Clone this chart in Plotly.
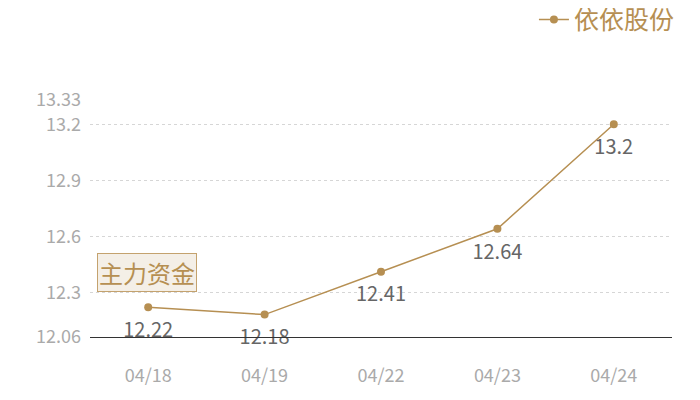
import plotly.graph_objects as go

# Data
dates = ["04/18", "04/19", "04/22", "04/23", "04/24"]
prices = [12.22, 12.18, 12.41, 12.64, 13.2]
y_ticks = [12.06, 12.3, 12.6, 12.9, 13.2, 13.33]
series_name = "依依股份"

gold = "#b68f52"
font_family = "Noto Sans CJK SC, Noto Sans, sans-serif"

fig = go.Figure()
fig.add_trace(go.Scatter(
    x=dates,
    y=prices,
    name=series_name,
    mode="lines+markers",
    line=dict(color=gold, width=1.5),
    marker=dict(color=gold, size=8),
))
# value labels, pushed a little further below the points
fig.add_trace(go.Scatter(
    x=dates,
    y=prices,
    mode="markers+text",
    marker=dict(size=22, opacity=0),
    text=[str(p) for p in prices],
    textposition="bottom center",
    textfont=dict(size=20, color="#666666"),
    cliponaxis=False,
    showlegend=False,
    hoverinfo="skip",
))

fig.add_annotation(
    text="主力资金",
    xref="paper", yref="paper",
    x=0.012, y=0.274,
    xanchor="left", yanchor="middle",
    showarrow=False,
    font=dict(size=24, color=gold, family=font_family),
    bgcolor="#f4efe7",
    bordercolor="#c4a26e",
    borderwidth=1,
    borderpad=1,
)

# page body adds an 8px offset, so the figure is sized to fill the rest
fig.update_layout(
    width=692, height=392,
    margin=dict(l=82, r=28, t=92, b=63, autoexpand=False),
    paper_bgcolor="white",
    plot_bgcolor="white",
    font=dict(family=font_family),
    showlegend=True,
    legend=dict(
        xref="container", yref="container",
        x=0.971, xanchor="right",
        y=0.97, yanchor="middle",
        font=dict(size=25, color=gold),
        itemwidth=30,
        bgcolor="rgba(0,0,0,0)",
    ),
)

fig.update_xaxes(
    type="category",
    range=[-0.5, 4.5],
    showgrid=False,
    showline=True,
    linecolor="#333333",
    linewidth=1,
    ticks="",
    ticklabelstandoff=22,
    tickfont=dict(size=18, color="#aaaaaa"),
    fixedrange=True,
)
fig.update_yaxes(
    range=[12.06, 13.33],
    tickmode="array",
    tickvals=y_ticks,
    ticktext=[str(v) for v in y_ticks],
    showgrid=True,
    gridcolor="#d6d6d6",
    griddash="dot",
    gridwidth=1,
    zeroline=False,
    showline=False,
    ticks="",
    ticklabelstandoff=8,
    tickfont=dict(size=18, color="#aaaaaa"),
    fixedrange=True,
)

fig.write_html("out.html")
